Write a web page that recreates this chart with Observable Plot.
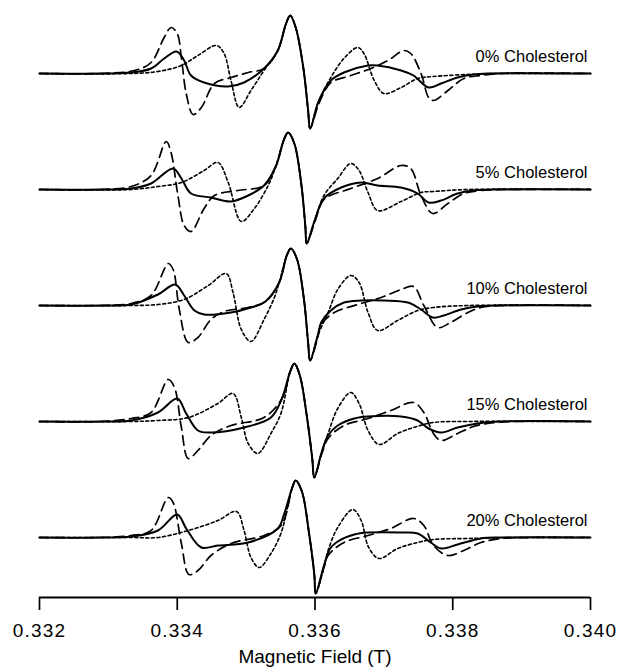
<!DOCTYPE html>
<html>
<head>
<meta charset="utf-8">
<script src="https://cdn.jsdelivr.net/npm/d3@7"></script>
<script src="https://cdn.jsdelivr.net/npm/@observablehq/plot@0.6"></script>
<style>
  html, body { margin: 0; padding: 0; background: #fff; }
  #chart svg { display: block; }
  #chart g[aria-label="x-axis tick"] path { stroke-width: 1.7px; }
  #chart g[aria-label="x-axis tick label"] text { letter-spacing: 1.2px; }
</style>
</head>
<body>
<div id="chart"></div>
<script>
// ---- Data (field in T, signal amplitude in arbitrary units) ----
const fieldTicks = [0.332, 0.334, 0.336, 0.338, 0.340];
const axisTitle = "Magnetic Field (T)";
const panelLabels = ["0% Cholesterol", "5% Cholesterol", "10% Cholesterol", "15% Cholesterol", "20% Cholesterol"];

const solid0 = [[0.33200,0],[0.33290,0],[0.33333,1],[0.33362,5],[0.33381,15],[0.33399,22],[0.33410,13],[0.33420,-2],[0.33439,-9],[0.33474,-13],[0.33497,-9],[0.33526,5],[0.33546,23],[0.33558,50],[0.33564,58],[0.33572,46],[0.33583,6],[0.33590,-37],[0.33593,-55],[0.33604,-30],[0.33613,-17],[0.33623,-7],[0.33642,1],[0.33677,8],[0.33691,8],[0.33725,3],[0.33743,-2],[0.33765,-14],[0.33783,-10],[0.33807,-4],[0.33830,-1],[0.33851,0],[0.34000,0]];
const dashed0 = [[0.33200,0],[0.33290,0],[0.33338,3],[0.33362,11],[0.33381,36],[0.33391,46],[0.33400,40],[0.33406,16],[0.33413,-20],[0.33423,-41],[0.33435,-34],[0.33454,-10],[0.33478,-4],[0.33503,1],[0.33526,5],[0.33546,23],[0.33558,50],[0.33564,58],[0.33572,46],[0.33583,6],[0.33590,-37],[0.33593,-55],[0.33604,-33],[0.33613,-19],[0.33623,-9],[0.33652,-2],[0.33681,5],[0.33706,13],[0.33729,23],[0.33739,20],[0.33754,0],[0.33765,-24],[0.33772,-27],[0.33793,-17],[0.33816,-5],[0.33841,-2],[0.33870,0],[0.34000,0]];
const dotted0 = [[0.33200,0],[0.33333,0],[0.33372,2],[0.33406,8],[0.33430,18],[0.33457,28],[0.33468,20],[0.33478,-7],[0.33490,-34],[0.33507,-17],[0.33526,3],[0.33546,23],[0.33558,50],[0.33564,58],[0.33572,46],[0.33583,6],[0.33590,-37],[0.33593,-55],[0.33604,-30],[0.33623,-4],[0.33642,15],[0.33662,26],[0.33671,20],[0.33686,-7],[0.33700,-20],[0.33725,-14],[0.33749,-5],[0.33772,-3],[0.33822,-1],[0.33870,0],[0.34000,0]];

const solid1 = [[0.33200,0],[0.33290,0],[0.33333,1],[0.33362,6],[0.33394,21],[0.33406,11],[0.33420,-4],[0.33449,-8],[0.33478,-12],[0.33503,-6],[0.33526,4],[0.33543,23],[0.33555,50],[0.33561,57],[0.33570,46],[0.33580,6],[0.33586,-37],[0.33588,-54],[0.33600,-30],[0.33613,-9],[0.33638,2],[0.33667,7],[0.33691,4],[0.33725,2],[0.33749,-4],[0.33765,-13],[0.33783,-11],[0.33807,-4],[0.33830,-1],[0.33870,0],[0.34000,0]];
const dashed1 = [[0.33200,0],[0.33290,0],[0.33333,3],[0.33362,14],[0.33384,48],[0.33391,37],[0.33401,-6],[0.33410,-36],[0.33420,-42],[0.33439,-19],[0.33454,-6],[0.33488,-1],[0.33526,4],[0.33543,23],[0.33555,50],[0.33561,57],[0.33570,46],[0.33580,6],[0.33586,-37],[0.33588,-54],[0.33600,-32],[0.33613,-10],[0.33652,1],[0.33691,11],[0.33725,24],[0.33739,21],[0.33754,-6],[0.33771,-24],[0.33793,-14],[0.33816,-4],[0.33841,-1],[0.33870,0],[0.34000,0]];
const dotted1 = [[0.33200,0],[0.33333,0],[0.33372,3],[0.33406,7],[0.33439,19],[0.33459,27],[0.33474,7],[0.33493,-32],[0.33512,-19],[0.33532,4],[0.33543,23],[0.33555,50],[0.33561,57],[0.33570,46],[0.33580,6],[0.33586,-37],[0.33588,-54],[0.33600,-30],[0.33613,-6],[0.33633,11],[0.33652,26],[0.33664,19],[0.33677,-3],[0.33691,-21],[0.33725,-12],[0.33754,-3],[0.33772,-2],[0.33822,0],[0.34000,0]];

const solid2 = [[0.33200,0],[0.33290,0],[0.33333,1],[0.33372,11],[0.33397,21],[0.33410,10],[0.33425,-5],[0.33439,-9],[0.33478,-7],[0.33507,-2],[0.33528,4],[0.33548,23],[0.33559,50],[0.33565,57],[0.33574,46],[0.33584,6],[0.33590,-37],[0.33593,-55],[0.33604,-30],[0.33609,-17],[0.33623,-5],[0.33642,3],[0.33667,5],[0.33700,5],[0.33735,3],[0.33754,-4],[0.33771,-12],[0.33787,-10],[0.33812,-4],[0.33836,-1],[0.33870,0],[0.34000,0]];
const dashed2 = [[0.33200,0],[0.33290,0],[0.33333,2],[0.33362,10],[0.33387,42],[0.33394,36],[0.33403,-4],[0.33416,-37],[0.33430,-32],[0.33449,-14],[0.33468,-6],[0.33503,-2],[0.33528,4],[0.33548,23],[0.33559,50],[0.33565,57],[0.33574,46],[0.33584,6],[0.33590,-37],[0.33593,-55],[0.33604,-32],[0.33609,-19],[0.33628,-7],[0.33662,1],[0.33696,8],[0.33725,16],[0.33743,19],[0.33758,0],[0.33778,-22],[0.33797,-17],[0.33822,-7],[0.33841,-2],[0.33870,0],[0.34000,0]];
const dotted2 = [[0.33200,0],[0.33333,0],[0.33372,1],[0.33410,6],[0.33445,20],[0.33471,32],[0.33481,13],[0.33493,-24],[0.33507,-36],[0.33526,-14],[0.33541,8],[0.33548,23],[0.33559,50],[0.33565,57],[0.33574,46],[0.33584,6],[0.33590,-37],[0.33593,-55],[0.33604,-30],[0.33619,-7],[0.33633,16],[0.33652,30],[0.33664,23],[0.33677,-7],[0.33691,-25],[0.33720,-15],[0.33749,-5],[0.33772,-2],[0.33822,0],[0.34000,0]];

const solid3 = [[0.33200,0],[0.33290,0],[0.33333,1],[0.33372,9],[0.33400,23],[0.33413,8],[0.33430,-9],[0.33449,-11],[0.33497,-6],[0.33536,4],[0.33552,23],[0.33564,50],[0.33570,58],[0.33578,46],[0.33588,6],[0.33596,-37],[0.33599,-56],[0.33610,-30],[0.33619,-14],[0.33633,-4],[0.33657,3],[0.33677,5],[0.33725,5],[0.33749,1],[0.33765,-7],[0.33783,-11],[0.33807,-6],[0.33836,-2],[0.33870,0],[0.34000,0]];
const dashed3 = [[0.33200,0],[0.33290,0],[0.33333,3],[0.33362,9],[0.33387,42],[0.33396,34],[0.33406,-6],[0.33416,-37],[0.33430,-29],[0.33449,-14],[0.33478,-4],[0.33526,4],[0.33552,23],[0.33564,50],[0.33570,58],[0.33578,46],[0.33588,6],[0.33596,-37],[0.33599,-56],[0.33610,-32],[0.33619,-17],[0.33642,-4],[0.33677,3],[0.33710,11],[0.33743,19],[0.33758,9],[0.33772,-12],[0.33783,-19],[0.33807,-12],[0.33830,-5],[0.33851,-2],[0.33890,0],[0.34000,0]];
const dotted3 = [[0.33200,0],[0.33333,0],[0.33372,1],[0.33416,4],[0.33459,18],[0.33481,28],[0.33493,4],[0.33503,-22],[0.33517,-32],[0.33536,-12],[0.33551,9],[0.33564,50],[0.33570,58],[0.33578,46],[0.33588,6],[0.33596,-37],[0.33599,-56],[0.33610,-30],[0.33619,-12],[0.33633,13],[0.33652,29],[0.33664,18],[0.33677,-9],[0.33693,-23],[0.33720,-12],[0.33743,-6],[0.33772,-1],[0.33822,0],[0.34000,0]];

const solid4 = [[0.33200,0],[0.33290,0],[0.33333,1],[0.33372,7],[0.33400,23],[0.33413,9],[0.33435,-10],[0.33459,-8],[0.33503,-5],[0.33546,9],[0.33555,23],[0.33567,50],[0.33572,57],[0.33581,46],[0.33591,6],[0.33599,-37],[0.33601,-56],[0.33613,-28],[0.33622,-11],[0.33633,-4],[0.33657,3],[0.33677,5],[0.33725,5],[0.33749,4],[0.33768,-5],[0.33783,-11],[0.33807,-7],[0.33841,-1],[0.33870,0],[0.34000,0]];
const dashed4 = [[0.33200,0],[0.33290,0],[0.33333,2],[0.33362,7],[0.33387,40],[0.33394,35],[0.33406,-6],[0.33417,-37],[0.33430,-33],[0.33449,-18],[0.33478,-6],[0.33526,2],[0.33551,12],[0.33567,50],[0.33572,57],[0.33581,46],[0.33591,6],[0.33599,-37],[0.33601,-56],[0.33613,-30],[0.33619,-18],[0.33642,-5],[0.33677,2],[0.33710,9],[0.33743,19],[0.33758,12],[0.33772,-8],[0.33793,-18],[0.33816,-13],[0.33841,-5],[0.33870,-1],[0.33920,0],[0.34000,0]];
const dotted4 = [[0.33200,0],[0.33333,0],[0.33372,0],[0.33416,7],[0.33459,17],[0.33486,26],[0.33497,7],[0.33507,-20],[0.33519,-30],[0.33536,-16],[0.33551,5],[0.33567,50],[0.33572,57],[0.33581,46],[0.33591,6],[0.33599,-37],[0.33601,-56],[0.33613,-30],[0.33619,-13],[0.33633,10],[0.33655,28],[0.33667,17],[0.33678,-10],[0.33693,-21],[0.33720,-11],[0.33749,-5],[0.33772,-2],[0.33822,-1],[0.33900,0],[0.34000,0]];

// ---- Build table ----
const panels = [
  [solid0, dashed0, dotted0],
  [solid1, dashed1, dotted1],
  [solid2, dashed2, dotted2],
  [solid3, dashed3, dotted3],
  [solid4, dashed4, dotted4]
];
const seriesNames = ["solid", "dashed", "dotted"];
const spacing = 116; // vertical stacking offset between spectra
const rows = [];
panels.forEach((group, p) => {
  group.forEach((arr, s) => {
    arr.forEach(([f, a]) => rows.push({field: f, y: a - p * spacing, panel: p, series: seriesNames[s]}));
  });
});
const labelRows = panelLabels.map((t, p) => ({text: t, x: 0.340, y: 17 - p * spacing}));
const yBottom = -524;

const font = "'Liberation Sans', Arial, Helvetica, sans-serif";
const lineOpts = {x: "field", y: "y", z: "panel", curve: "catmull-rom", stroke: "black", strokeLinejoin: "round"};

const chart = Plot.plot({
  width: 619,
  height: 668,
  marginLeft: 39,
  marginRight: 29,
  marginTop: 0,
  marginBottom: 71,
  style: {fontFamily: font, fontSize: "19px", color: "black", background: "white", overflow: "visible"},
  x: {
    domain: [0.332, 0.340],
    ticks: fieldTicks,
    tickFormat: d3.format(".3f"),
    tickSize: 13,
    tickPadding: 13,
    label: null
  },
  y: {domain: [yBottom, 73], axis: null},
  marks: [
    Plot.ruleY([yBottom], {stroke: "black", strokeWidth: 2}),
    Plot.line(rows.filter(d => d.series === "dotted"), {...lineOpts, strokeWidth: 1.6, strokeDasharray: "3,2.6"}),
    Plot.line(rows.filter(d => d.series === "dashed"), {...lineOpts, strokeWidth: 1.7, strokeDasharray: "9.5,5.5"}),
    Plot.line(rows.filter(d => d.series === "solid"), {...lineOpts, strokeWidth: 2}),
    Plot.text(labelRows, {x: "x", y: "y", text: "text", textAnchor: "end", dx: -3, fontSize: 16.5, fill: "black"}),
    Plot.text([axisTitle], {frameAnchor: "bottom", lineAnchor: "middle", text: d => d, dy: 59, fontSize: 19, fill: "black", style: "letter-spacing:0.5px"})
  ]
});
document.getElementById("chart").appendChild(chart);
</script>
</body>
</html>
